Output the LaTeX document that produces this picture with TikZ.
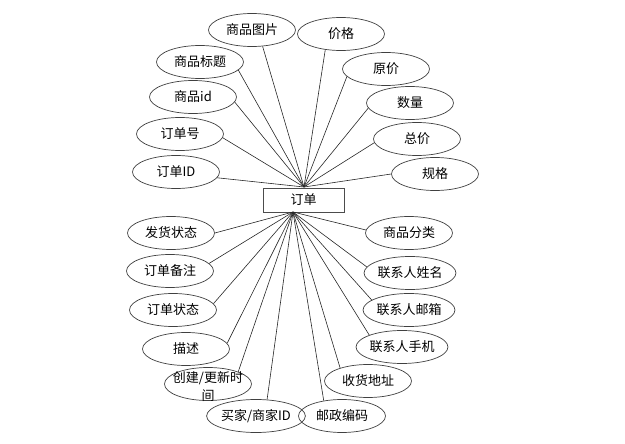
\documentclass[tikz,border=0pt]{standalone}
\usepackage{fontspec}
\newfontfamily\cjk{Noto Sans CJK SC}
\usetikzlibrary{shapes.geometric}
\begin{document}
\begin{tikzpicture}[x=1pt,y=-1pt,
  attr/.style={ellipse,draw=black!75,line width=0.7pt,minimum width=87pt,minimum height=33pt,inner sep=0pt,font=\cjk\fontsize{13}{15}\selectfont},
  ent/.style={rectangle,draw=black!70,line width=0.8pt,minimum width=81pt,minimum height=24pt,inner sep=0pt,font=\cjk\fontsize{13}{15}\selectfont},
  link/.style={draw=black!85,line width=0.6pt}]
\useasboundingbox (0,0) rectangle (625,444);
\node[ent] (e) at (303.5,200) {订单};
\coordinate (ht) at (304,187);
\coordinate (hb) at (293,212);
% top attributes
\node[attr] (a1) at (252,30) {商品图片};
\node[attr] (a2) at (341,34) {价格};
\node[attr] (a3) at (200,62) {商品标题};
\node[attr] (a4) at (386,69) {原价};
\node[attr] (a5) at (193,97) {商品id};
\node[attr] (a6) at (410,103) {数量};
\node[attr] (a7) at (180,134) {订单号};
\node[attr] (a8) at (417,139) {总价};
\node[attr] (a9) at (176,172) {订单ID};
\node[attr] (a10) at (435,174) {规格};
% bottom attributes
\node[attr] (b1) at (171,233) {发货状态};
\node[attr] (b2) at (409,233) {商品分类};
\node[attr] (b3) at (170,271) {订单备注};
\node[attr] (b4) at (410,273) {联系人姓名};
\node[attr] (b5) at (173,310) {订单状态};
\node[attr] (b6) at (409,310) {联系人邮箱};
\node[attr] (b7) at (186,349) {描述};
\node[attr] (b8) at (402,347) {联系人手机};
\node[attr] (b9) at (208,384) {};
\node[font=\cjk\fontsize{13}{18}\selectfont,align=center,inner sep=0pt] (b9t) at (208,387) {创建/更新时\\间};
\node[attr] (b10) at (368,381) {收货地址};
\node[attr] (b11) at (256,416) {买家/商家ID};
\node[attr] (b12) at (342,416) {邮政编码};
% connectors (anchor angles where each line meets its ellipse)
\foreach \n/\a in {a1/-57,a2/-135,a3/-12,a4/-169,a5/-7,a6/-173,a7/-5,a8/-175,a9/-8,a10/180}
  \draw[link] (\n.\a) -- (ht);
\foreach \n/\a in {b1/0,b2/176,b3/11,b4/172,b5/9,b6/165,b7/8,b8/160,b9/22,b10/155,b11/56,b12/140}
  \draw[link] (\n.\a) -- (hb);
\end{tikzpicture}
\end{document}
